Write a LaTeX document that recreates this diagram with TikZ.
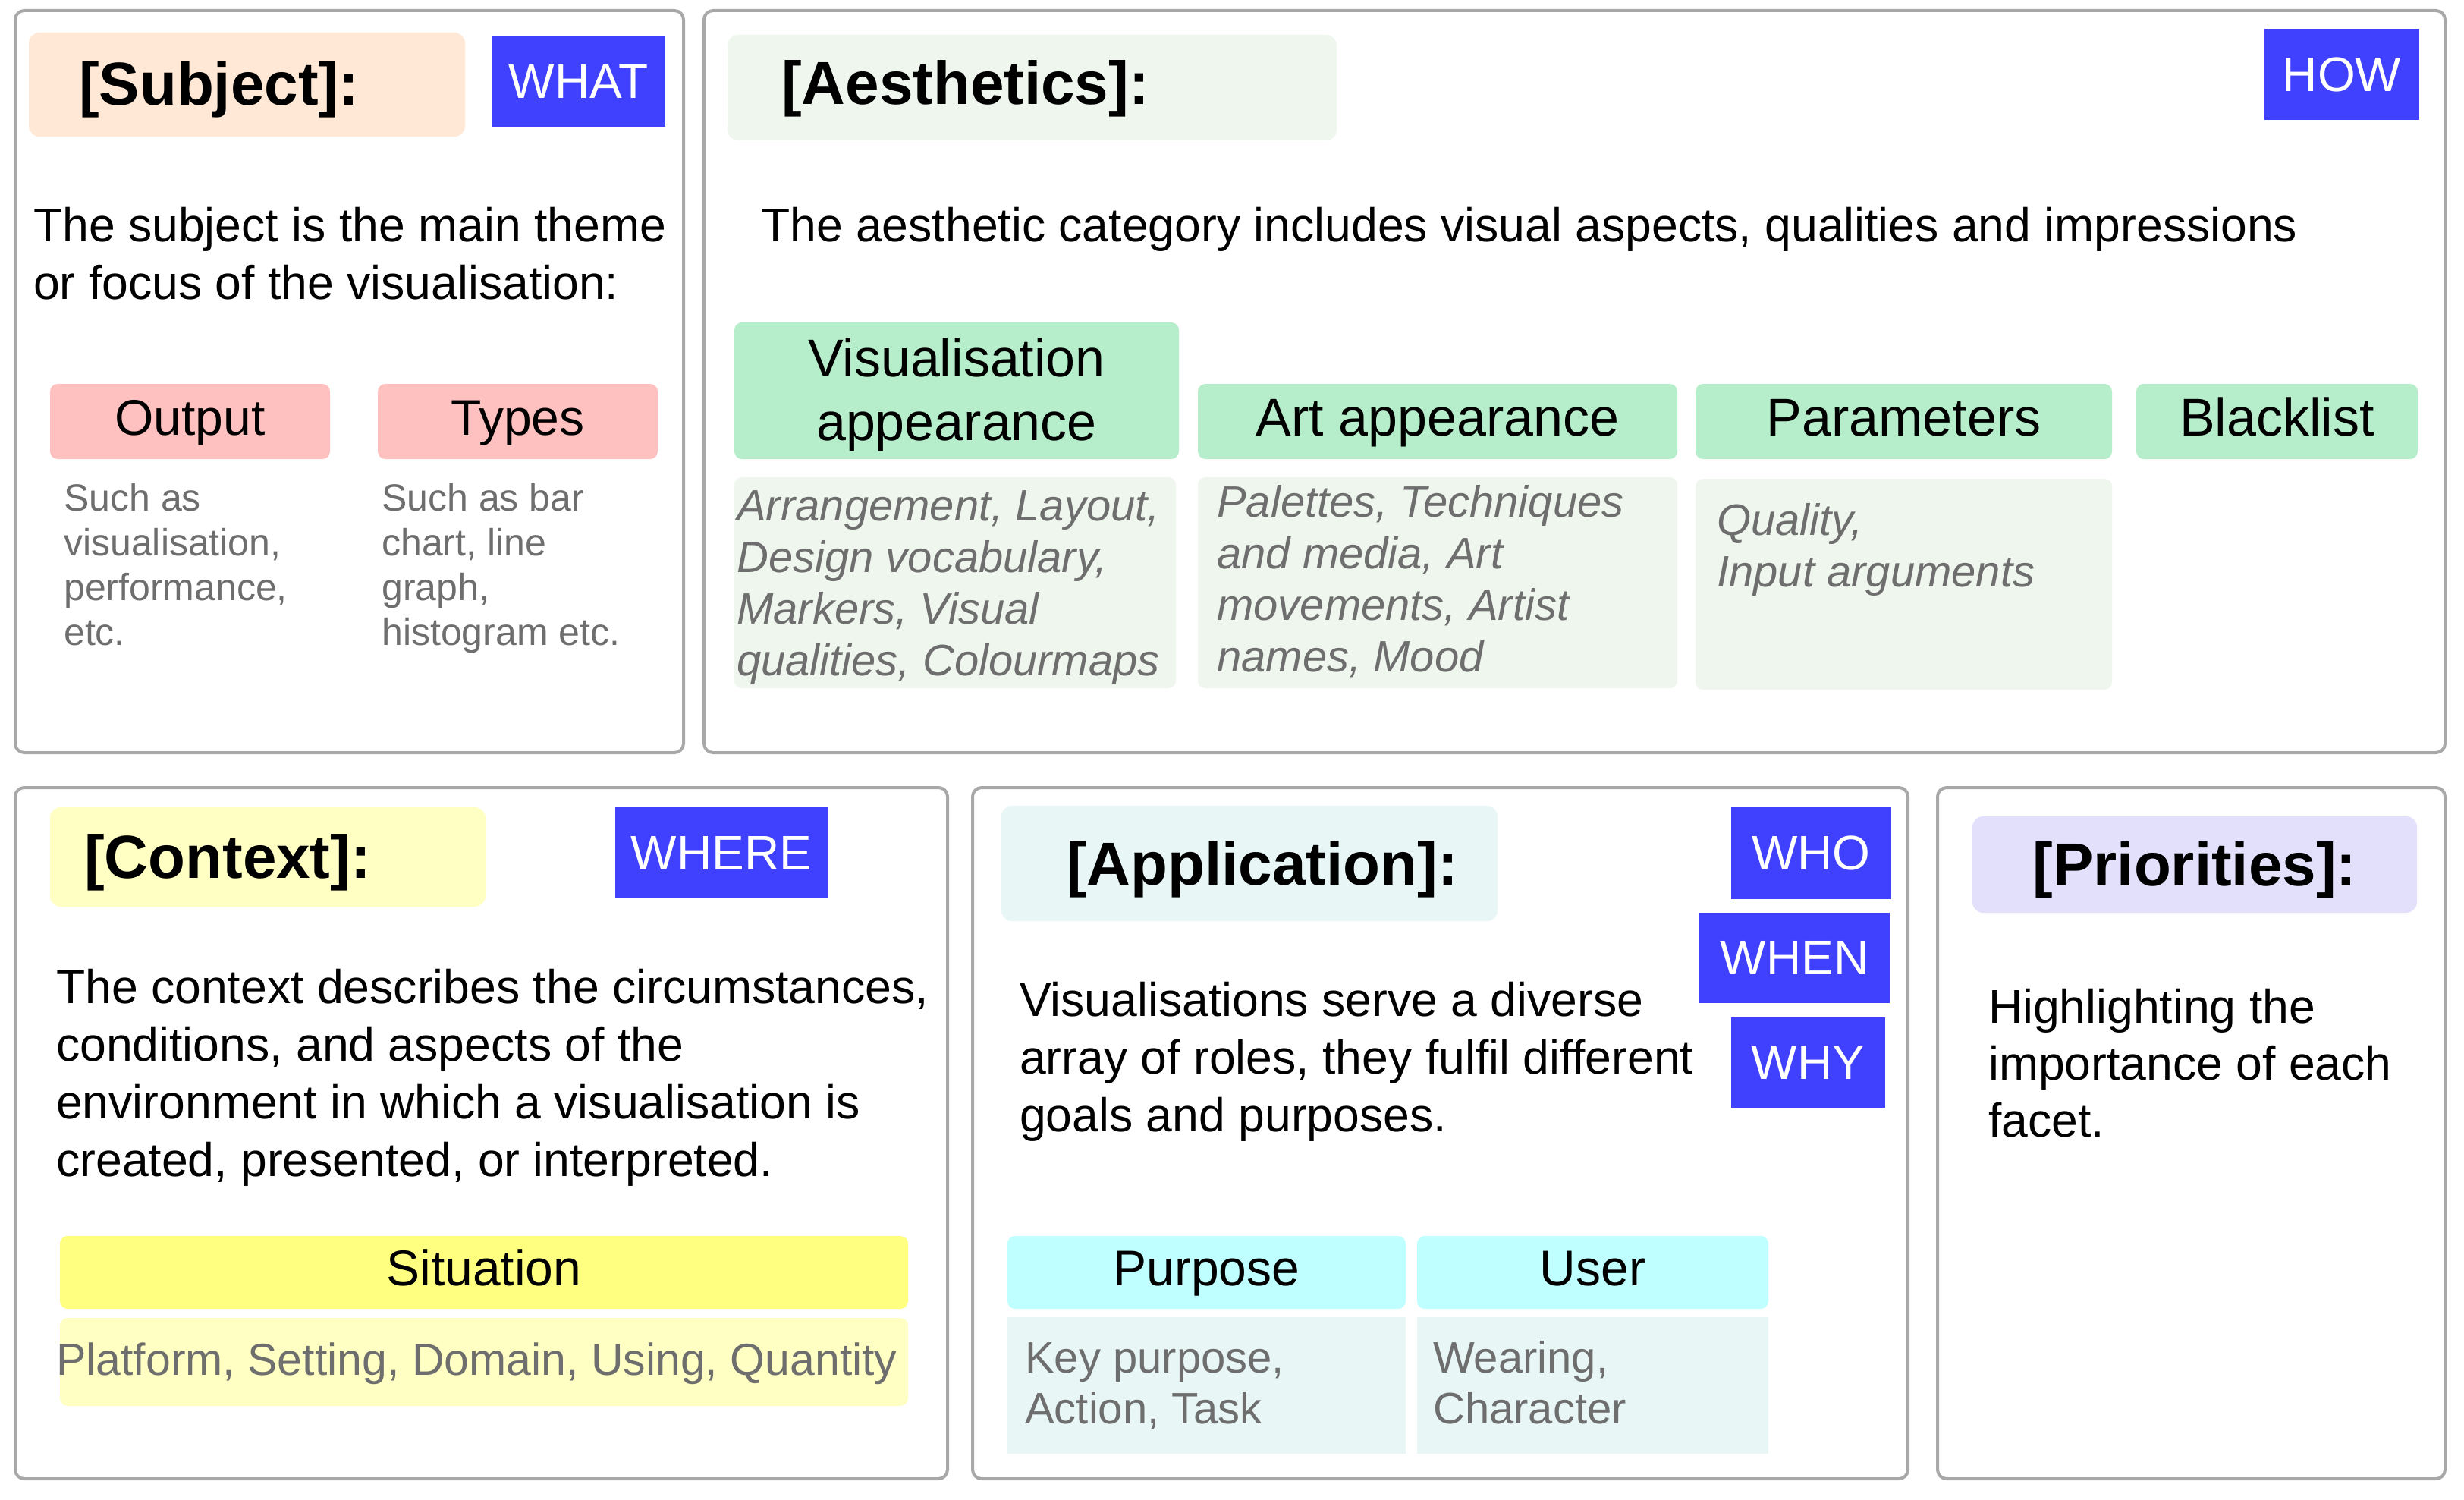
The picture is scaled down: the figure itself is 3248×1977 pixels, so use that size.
\documentclass[tikz,border=0pt]{standalone}
\usepackage{fontspec}
\setmainfont{Liberation Sans}
\definecolor{panelgray}{HTML}{A8A8A8}
\definecolor{tagblue}{HTML}{4040FF}
\definecolor{peach}{HTML}{FFE8D6}
\definecolor{pinkbox}{HTML}{FFC0C0}
\definecolor{mint}{HTML}{B6EECB}
\definecolor{palegreen}{HTML}{EEF6EE}
\definecolor{paleyellow}{HTML}{FFFFC4}
\definecolor{yellowbox}{HTML}{FFFF80}
\definecolor{palecyan}{HTML}{E8F6F6}
\definecolor{cyanbox}{HTML}{BFFFFF}
\definecolor{lavender}{HTML}{E3E0FB}
\definecolor{graytext}{HTML}{6E6E6E}
\newcommand\fs[2]{\fontsize{#1}{#2}\selectfont}
\newcommand\lns[1]{\begin{tabular}[t]{@{}l@{}}#1\end{tabular}}
\newcommand\clns[1]{\begin{tabular}[t]{@{}c@{}}#1\end{tabular}}
\newcommand\bx[6]{\node[#2, anchor=north west, inner sep=0pt, outer sep=0pt,
  minimum width={(#5-#3)*1pt}, minimum height={(#6-#4)*1pt}] (#1) at (#3,#4) {};}
\tikzset{
  panel/.style={draw=panelgray, line width=4pt, rounded corners=12pt, fill=white},
  hdrbox/.style={rounded corners=14pt},
  tag/.style={fill=tagblue},
  subbox/.style={rounded corners=10pt},
  detbox/.style={rounded corners=10pt},
  hdrtxt/.style={font=\fs{80}{90}\bfseries, inner sep=0pt},
  tagtxt/.style={font=\fs{64}{70}, text=white, inner sep=0pt},
  body/.style={font=\fs{62.5}{76}, anchor=base west, inner sep=0pt},
  subtxt/.style={font=\fs{66}{80}, anchor=base, inner sep=0pt},
  subtxtb/.style={font=\fs{70}{84}, anchor=base, inner sep=0pt},
  smalltxt/.style={font=\fs{50}{59}, text=graytext, anchor=base west, inner sep=0pt},
  dettxt/.style={font=\fs{58}{68}, text=graytext, anchor=base west, inner sep=0pt},
  itdettxt/.style={font=\fs{58}{68}\itshape, text=graytext, anchor=base west, inner sep=0pt},
}
\begin{document}
\begin{tikzpicture}[x=1pt,y=-1pt]
\useasboundingbox (0,0) rectangle (3248,1977);
\fill[white] (0,0) rectangle (3248,1977);
% panels
\bx{subjP}{panel}{20}{14}{901}{992}
\bx{aesP}{panel}{928}{14}{3223}{992}
\bx{ctxP}{panel}{20}{1038}{1249}{1949}
\bx{appP}{panel}{1282}{1038}{2515}{1949}
\bx{priP}{panel}{2554}{1038}{3223}{1949}
% ---------- Subject ----------
\bx{subjH}{hdrbox,fill=peach}{38}{43}{613}{180}
\node[hdrtxt, anchor=base west] (subjHT) at (104,139) {[Subject]:};
\bx{what}{tag}{648}{48}{877}{167}
\node[tagtxt] (whatT) at (what.center) {WHAT};
\node[body] (subjD) at (44,319) {\lns{The subject is the main theme\\or focus of the visualisation:}};
\bx{outB}{subbox,fill=pinkbox}{66}{506}{435}{605}
\node[subtxt] (outT) at (250.5,573) {Output};
\bx{typB}{subbox,fill=pinkbox}{498}{506}{867}{605}
\node[subtxt] (typT) at (682.5,573) {Types};
\node[smalltxt] (outD) at (84,673) {\lns{Such as\\visualisation,\\performance,\\etc.}};
\node[smalltxt] (typD) at (503,673) {\lns{Such as bar\\chart, line\\graph,\\histogram etc.}};
% ---------- Aesthetics ----------
\bx{aesH}{hdrbox,fill=palegreen}{959}{46}{1762}{185}
\node[hdrtxt, anchor=base west] (aesHT) at (1030,138) {[Aesthetics]:};
\bx{how}{tag}{2985}{38}{3189}{158}
\node[tagtxt] (howT) at (how.center) {HOW};
\node[body] (aesD) at (1003,319) {The aesthetic category includes visual aspects, qualities and impressions};
\bx{visB}{subbox,fill=mint}{968}{425}{1554}{605}
\node[subtxtb] (visT) at (1261,496) {\clns{Visualisation\\appearance}};
\bx{artB}{subbox,fill=mint}{1579}{506}{2211}{605}
\node[subtxtb] (artT) at (1895,574) {Art appearance};
\bx{parB}{subbox,fill=mint}{2235}{506}{2784}{605}
\node[subtxtb] (parT) at (2509.5,574) {Parameters};
\bx{blkB}{subbox,fill=mint}{2816}{506}{3187}{605}
\node[subtxtb] (blkT) at (3001.5,574) {Blacklist};
\bx{visDB}{detbox,fill=palegreen}{968}{629}{1550}{907}
\node[itdettxt] (visD) at (971,686) {\lns{Arrangement, Layout,\\Design vocabulary,\\Markers, Visual\\qualities, Colourmaps}};
\bx{artDB}{detbox,fill=palegreen}{1579}{629}{2211}{907}
\node[itdettxt] (artD) at (1604,681) {\lns{Palettes, Techniques\\and media, Art\\movements, Artist\\names, Mood}};
\bx{parDB}{detbox,fill=palegreen}{2235}{631}{2784}{909}
\node[itdettxt] (parD) at (2263,705) {\lns{Quality,\\Input arguments}};
% ---------- Context ----------
\bx{ctxH}{hdrbox,fill=paleyellow}{66}{1064}{640}{1195}
\node[hdrtxt, anchor=base west] (ctxHT) at (111,1157) {[Context]:};
\bx{where}{tag}{811}{1064}{1091}{1184}
\node[tagtxt] (whereT) at (where.center) {WHERE};
\node[body] (ctxD) at (74,1322) {\lns{The context describes the circumstances,\\conditions, and aspects of the\\environment in which a visualisation is\\created, presented, or interpreted.}};
\bx{sitB}{subbox,fill=yellowbox}{79}{1629}{1197}{1725}
\node[subtxt] (sitT) at (638,1694) {Situation};
\bx{sitDB}{detbox,fill=paleyellow}{79}{1737}{1197}{1853}
\node[dettxt, font=\fs{59}{68}] (sitD) at (74,1812) {Platform, Setting, Domain, Using, Quantity};
% ---------- Application ----------
\bx{appH}{hdrbox,fill=palecyan}{1320}{1062}{1974}{1214}
\node[hdrtxt, anchor=base west] (appHT) at (1406,1166) {[Application]:};
\bx{who}{tag}{2282}{1064}{2493}{1185}
\node[tagtxt] (whoT) at (who.center) {WHO};
\bx{when}{tag}{2240}{1203}{2491}{1322}
\node[tagtxt] (whenT) at (when.center) {WHEN};
\bx{why}{tag}{2282}{1341}{2485}{1460}
\node[tagtxt] (whyT) at (why.center) {WHY};
\node[body] (appD) at (1344,1339) {\lns{Visualisations serve a diverse\\array of roles, they fulfil different\\goals and purposes.}};
\bx{purB}{subbox,fill=cyanbox}{1328}{1629}{1853}{1725}
\node[subtxt] (purT) at (1590.5,1694) {Purpose};
\bx{usrB}{subbox,fill=cyanbox}{1868}{1629}{2331}{1725}
\node[subtxt] (usrT) at (2099.5,1694) {User};
\bx{purDB}{fill=palecyan}{1328}{1736}{1853}{1916}
\node[dettxt, font=\fs{58}{67}] (purD) at (1351,1809) {\lns{Key purpose,\\Action, Task}};
\bx{usrDB}{fill=palecyan}{1868}{1736}{2331}{1916}
\node[dettxt, font=\fs{58}{67}] (usrD) at (1889,1809) {\lns{Wearing,\\Character}};
% ---------- Priorities ----------
\bx{priH}{hdrbox,fill=lavender}{2600}{1076}{3186}{1203}
\node[hdrtxt, anchor=base] (priHT) at (2893,1167) {[Priorities]:};
\node[body, font=\fs{62.5}{75}] (priD) at (2621,1348) {\lns{Highlighting the\\importance of each\\facet.}};
\end{tikzpicture}
\end{document}
